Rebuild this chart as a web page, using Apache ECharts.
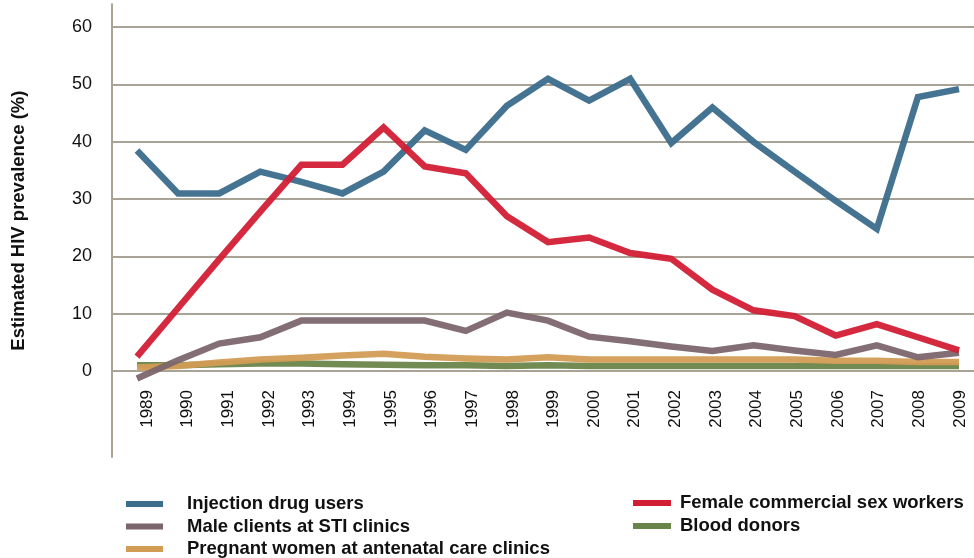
<!DOCTYPE html>
<html>
<head>
<meta charset="utf-8">
<script src="https://cdn.jsdelivr.net/npm/echarts@6/dist/echarts.min.js"></script>
<style>
html,body{margin:0;padding:0;background:#fff;}
#chart{width:974px;height:558px;}
</style>
</head>
<body>
<div id="chart"></div>
<script>
const years = [1989,1990,1991,1992,1993,1994,1995,1996,1997,1998,1999,2000,2001,2002,2003,2004,2005,2006,2007,2008,2009];
const injectionDrugUsers = [38.5,31,31,34.8,33,31,34.8,42,38.6,46.3,51,47.2,51,39.8,46,40,34.8,29.7,24.8,47.8,49.2];
const femaleSexWorkers = [2.5,11,19.5,27.8,36,36,42.5,35.7,34.5,27,22.5,23.3,20.6,19.6,14.2,10.6,9.6,6.2,8.2,5.9,3.6];
const maleClientsSTI = [-1.3,1.9,4.8,5.9,8.8,8.8,8.8,8.8,7.0,10.2,8.8,6.0,5.2,4.3,3.5,4.5,3.6,2.8,4.5,2.4,3.2];
const bloodDonors = [1.0,1.0,1.2,1.3,1.3,1.2,1.1,1.0,1.0,0.9,1.0,0.9,0.9,0.9,0.9,0.9,0.9,0.9,0.9,0.9,0.9];
const pregnantWomen = [0.6,0.9,1.5,2.0,2.3,2.7,3.0,2.5,2.2,2.0,2.4,2.0,2.0,2.0,2.0,2.0,2.0,1.8,1.8,1.6,1.6];
const yTicks = [0,10,20,30,40,50,60];

const names = {
  idu: 'Injection drug users',
  fsw: 'Female commercial sex workers',
  male: 'Male clients at STI clinics',
  blood: 'Blood donors',
  preg: 'Pregnant women at antenatal care clinics'
};
const colors = {
  idu: '#3b6d8d',
  fsw: '#d21e34',
  male: '#7b666d',
  blood: '#6a8549',
  preg: '#d39c55'
};
const FONT = '"Liberation Sans", Arial, Helvetica, sans-serif';

function pairs(vals){ return years.map((y,i)=>[y, vals[i]]); }
function mkSeries(key, vals){
  return {
    name: names[key], type: 'line', xAxisIndex: 0, yAxisIndex: 0,
    data: pairs(vals), symbol: 'none', silent: true,
    color: colors[key],
    lineStyle: {width: 6.5, color: colors[key], opacity: 0.95, cap: 'butt', join: 'miter'}
  };
}

function legendText(padLeft){
  return {fontFamily: FONT, fontSize: 18.5, fontWeight: 'bold', color: '#111', lineHeight: 20, padding: [0,0,0,padLeft]};
}

const chart = echarts.init(document.getElementById('chart'), null, {renderer: 'canvas'});
chart.setOption({
  animation: false,
  backgroundColor: '#fff',
  grid: {left: 112, right: 0, top: 4.3, bottom: 101, containLabel: false, outerBoundsMode: 'none'},
  legend: [
    {data: [names.idu, names.male, names.preg], orient: 'vertical', left: 126, top: 494, padding: 0, height: 66,
     itemWidth: 37, itemHeight: 6, itemGap: 2.5, icon: 'rect', textStyle: legendText(19), selectedMode: false},
    {data: [names.fsw, names.blood], orient: 'vertical', left: 633, top: 493, padding: 0, height: 66,
     itemWidth: 38, itemHeight: 6, itemGap: 3, icon: 'rect', textStyle: legendText(4), selectedMode: false}
  ],
  xAxis: [
    {type: 'value', min: 1988.392, max: 2009.365, position: 'bottom',
     axisLine: {show: false}, axisTick: {show: false}, axisLabel: {show: false}, splitLine: {show: false}},
    {type: 'value', min: 1988.139, max: 2009.344, position: 'bottom',
     axisLine: {show: false}, axisTick: {show: false, customValues: years}, splitLine: {show: false},
     axisLabel: {customValues: years, rotate: 90, margin: -67, fontFamily: FONT, fontSize: 17, color: '#111',
       formatter: v => String(Math.round(v))}}
  ],
  yAxis: {
    type: 'value', min: -15, max: 64,
    name: 'Estimated HIV prevalence (%)', nameLocation: 'middle', nameGap: 84,
    nameTextStyle: {fontFamily: FONT, fontSize: 18.5, fontWeight: 'bold', color: '#111', padding: [0,0,0,20]},
    axisLine: {show: true, lineStyle: {color: '#a8a395', width: 2}},
    axisTick: {show: false, customValues: yTicks},
    axisLabel: {customValues: yTicks, fontFamily: FONT, fontSize: 18, color: '#111', margin: 20},
    splitLine: {show: true, lineStyle: {color: '#a8a395', width: 2}}
  },
  series: [
    mkSeries('blood', bloodDonors),
    mkSeries('preg', pregnantWomen),
    mkSeries('male', maleClientsSTI),
    mkSeries('idu', injectionDrugUsers),
    mkSeries('fsw', femaleSexWorkers)
  ]
});
</script>
</body>
</html>
